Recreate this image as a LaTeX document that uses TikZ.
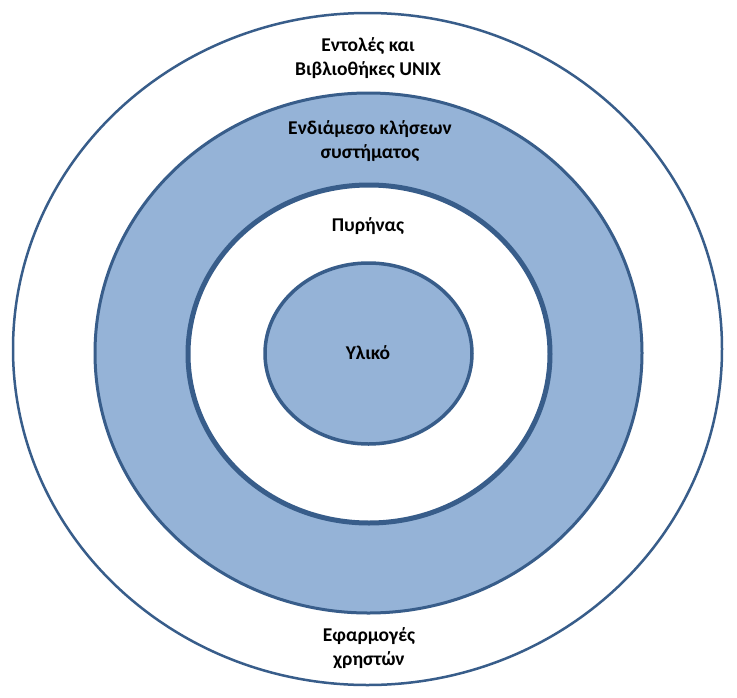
\documentclass[tikz,border=0pt]{standalone}
\usepackage{fontspec}
\setmainfont{Carlito}
\definecolor{ringfill}{HTML}{95B3D7}
\definecolor{ringline}{HTML}{385D8A}
\tikzset{
  lbl/.style={font=\fontsize{19.5}{24}\selectfont\bfseries, align=center, text=black, inner sep=0pt},
  ring/.style={draw=ringline}
}
\begin{document}
\begin{tikzpicture}[x=1pt,y=-1pt]
\useasboundingbox (0,0) rectangle (737,697);
\fill[white] (0,0) rectangle (737,697);
% outer ring
\draw[ring, line width=2.5pt, fill=white] (367.5,349) ellipse [x radius=354.5, y radius=336];
% system call interface (blue)
\draw[ring, line width=3pt, fill=ringfill] (368.5,353) ellipse [x radius=273.5, y radius=260];
% kernel (white)
\draw[ring, line width=5pt, fill=white] (369,354) ellipse [x radius=181, y radius=169];
% hardware (blue)
\draw[ring, line width=3.5pt, fill=ringfill] (368.5,353.5) ellipse [x radius=103.5, y radius=90.5];
% labels
\node[lbl] (cmds) at (368,58) {Εντολές και\\Βιβλιοθήκες UNIX};
\node[lbl] (sci) at (370,141) {Ενδιάμεσο κλήσεων\\συστήματος};
\node[lbl] (kern) at (368,226) {Πυρήνας};
\node[lbl] (hw) at (368,353) {Υλικό};
\node[lbl] (apps) at (369,648) {Εφαρμογές\\χρηστών};
\end{tikzpicture}
\end{document}
